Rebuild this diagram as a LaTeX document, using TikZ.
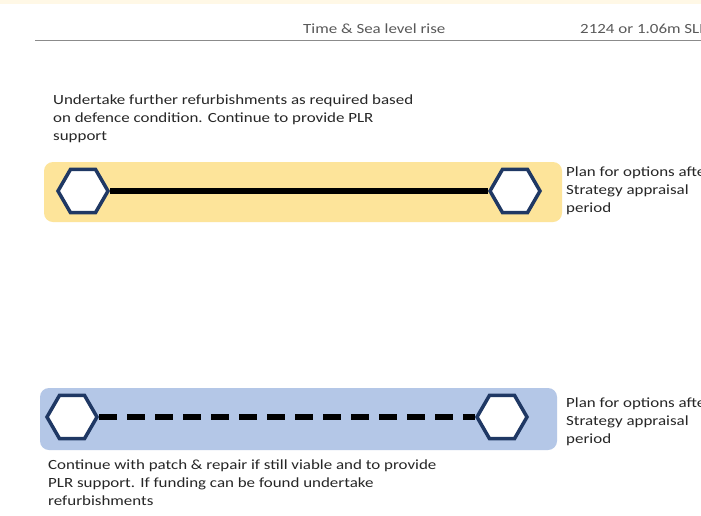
\documentclass[tikz,border=0pt]{standalone}
\usepackage{fontspec}
\setmainfont{Carlito}[FakeStretch=1.21]
\usetikzlibrary{shapes.geometric}
\definecolor{bandyellow}{HTML}{FDE49A}
\definecolor{bandblue}{HTML}{B4C7E7}
\definecolor{hexnavy}{HTML}{1F3864}
\definecolor{hdrgray}{HTML}{595959}
\definecolor{topband}{HTML}{FFF8E6}
\tikzset{
  hexnode/.style={regular polygon, regular polygon sides=6, minimum size=50pt, inner sep=0pt,
    draw=hexnavy, line width=3.5pt, fill=white},
  bandbox/.style={rounded corners=9pt, draw=none},
  bodytext/.style={anchor=north west, align=left, inner sep=0pt, font=\fontsize{14}{18}\selectfont, text=black!85},
  hdrtext/.style={anchor=base west, inner sep=0pt, font=\fontsize{14}{16}\selectfont, text=hdrgray},
  solidlink/.style={line width=5.5pt, black},
  dashlink/.style={line width=5.5pt, black, dash pattern=on 18pt off 10pt}
}
\begin{document}
\begin{tikzpicture}[x=1pt,y=-1pt]
\useasboundingbox (0,0) rectangle (701,515);
\fill[white] (0,0) rectangle (701,515);
\fill[topband] (0,0) rectangle (701,4);
% header
\draw[hdrgray!70, line width=1pt] (35,40) -- (701,40);
\node[hdrtext] (hdrA) at (303,33) {Time \& Sea level rise};
\node[hdrtext] (hdrB) at (580,33) {2124 or 1.06m SLR};
% top band
\node[bodytext] (txtA) at (53,95) {Undertake further refurbishments as required based\\on defence condition. Continue to provide PLR\\support};
\path[bandbox, fill=bandyellow] (44,162) rectangle (562,222);
\node[hexnode] (h1) at (83,191) {};
\node[hexnode] (h2) at (515,191) {};
\draw[solidlink] (h1) -- (h2);
\node[bodytext] (txtB) at (566,167) {Plan for options after\\Strategy appraisal\\period};
% bottom band
\path[bandbox, fill=bandblue] (40,388) rectangle (557,450);
\node[hexnode] (h3) at (72,417) {};
\node[hexnode] (h4) at (502,417) {};
\draw[dashlink] (h3) -- (h4);
\node[bodytext] (txtC) at (566,398) {Plan for options after\\Strategy appraisal\\period};
\node[bodytext] (txtD) at (48,460) {Continue with patch \& repair if still viable and to provide\\PLR support. If funding can be found undertake\\refurbishments};
\end{tikzpicture}
\end{document}
